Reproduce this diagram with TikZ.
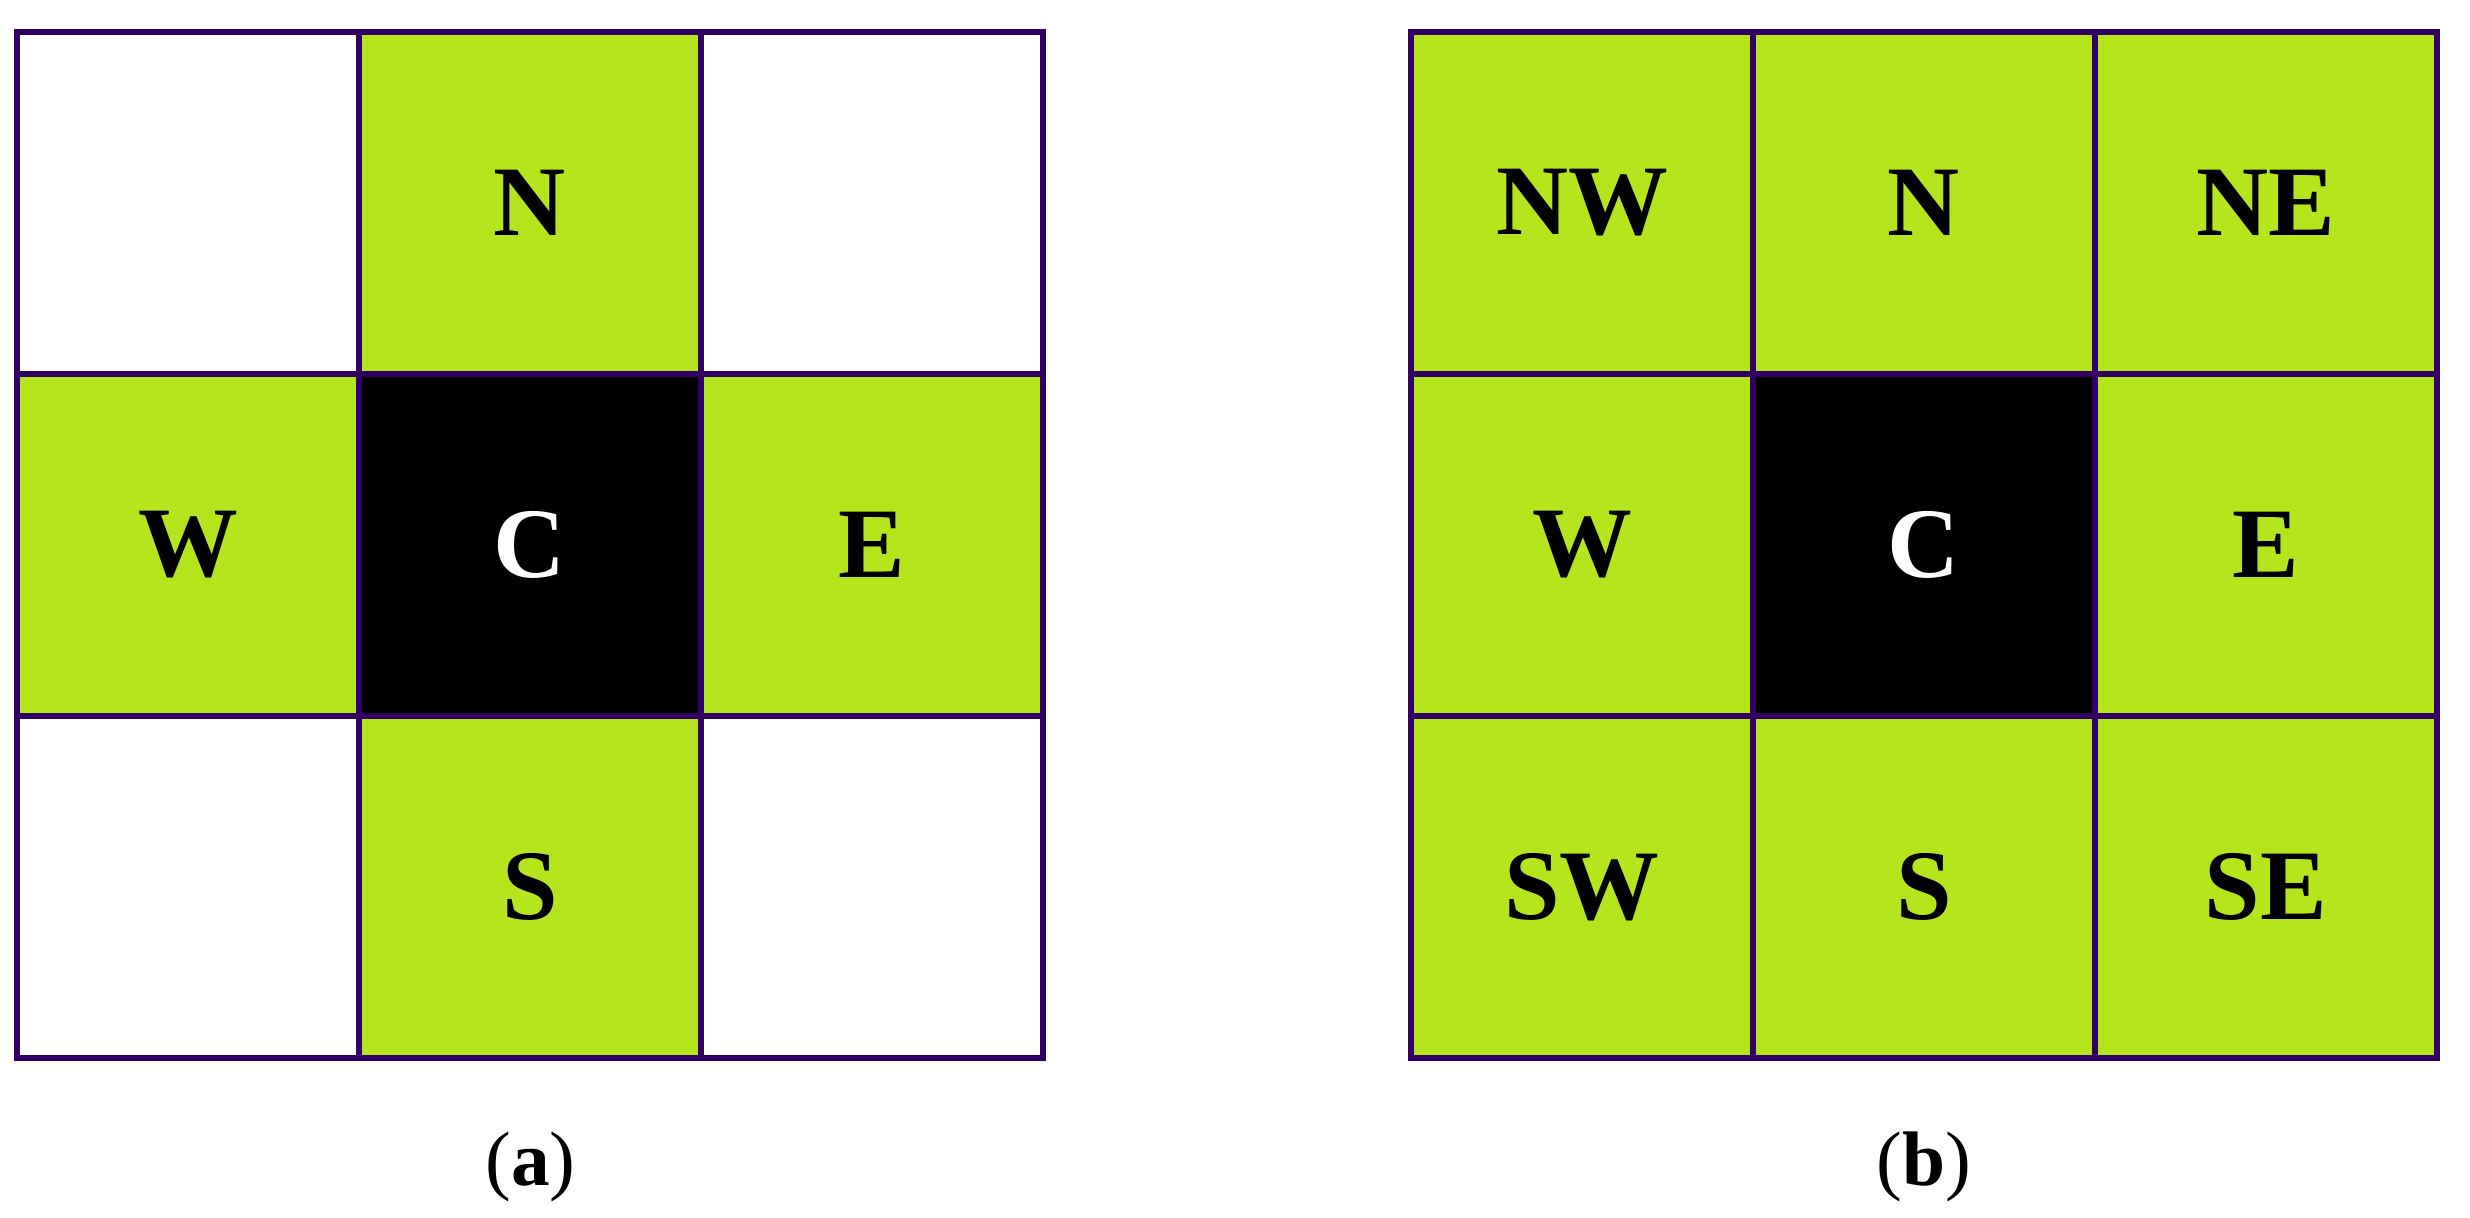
\documentclass[tikz,border=0pt]{standalone}
\usepackage{fontspec}
\setmainfont{Liberation Serif}
\definecolor{gridpurple}{RGB}{50, 0, 100}
\definecolor{nbrgreen}{RGB}{181, 230, 29}
\usetikzlibrary{positioning}

\tikzset{
  cellbox/.style={draw=gridpurple, line width=0.6mm, minimum size=3.42cm, inner sep=0pt,
    font=\fontsize{28.4}{30}\selectfont\bfseries},
  wcell/.style={cellbox, fill=white},
  gcell/.style={cellbox, fill=nbrgreen},
  kcell/.style={cellbox, fill=black, text=white},
  subcap/.style={font=\fontsize{22}{24}\selectfont, anchor=base}
}

\begin{document}
\begin{tikzpicture}
  \useasboundingbox (0, 0) rectangle (24.7, 12.17);

  % (a) von Neumann neighbourhood
  \foreach \col/\row/\kind/\lbl in {0/0/wcell/{}, 1/0/gcell/N, 2/0/wcell/{},
                                    0/1/gcell/W, 1/1/kcell/C, 2/1/gcell/E,
                                    0/2/wcell/{}, 1/2/gcell/S, 2/2/wcell/{}}
    \node[\kind] (a\col\row) at ({0.17 + 3.42*(\col + 0.5)}, {11.85 - 3.42*(\row + 0.5)}) {\lbl};
  \node[subcap] (capa) at (5.305, 0.32) {(\textbf{a})};

  % (b) Moore neighbourhood
  \foreach \col/\row/\kind/\lbl in {0/0/gcell/NW, 1/0/gcell/N, 2/0/gcell/NE,
                                    0/1/gcell/W, 1/1/kcell/C, 2/1/gcell/E,
                                    0/2/gcell/SW, 1/2/gcell/S, 2/2/gcell/SE}
    \node[\kind] (b\col\row) at ({14.11 + 3.42*(\col + 0.5)}, {11.85 - 3.42*(\row + 0.5)}) {\lbl};
  \node[subcap] (capb) at (19.24, 0.32) {(\textbf{b})};
\end{tikzpicture}
\end{document}
